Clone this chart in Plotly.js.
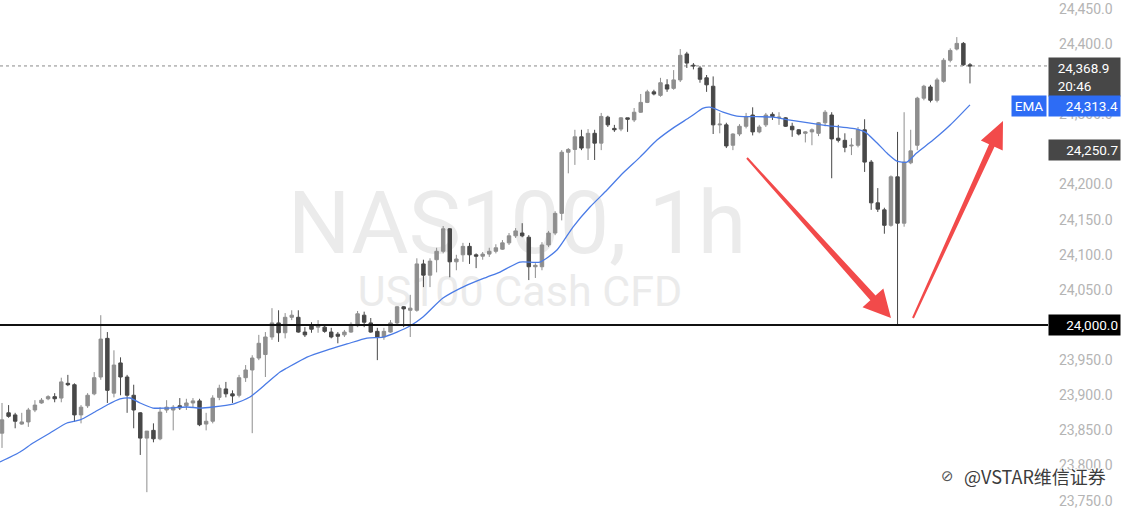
<!DOCTYPE html>
<html><head><meta charset="utf-8">
<script src="https://cdn.plot.ly/plotly-3.0.1.min.js"></script>
<style>html,body{margin:0;padding:0;background:#fff;}#chart{width:1123px;height:511px;}</style>
</head><body><div id="chart"></div>
<script>
// ---- data ----
const openP = [23846,23875,23872,23859,23862,23879,23889,23895,23898,23896,23917,23915,23872,23885,23902,23926,23981,23903,23946,23926,23900,23875,23839,23850,23838,23879,23879,23885,23885,23889,
23892,23859,23863,23897,23909,23902,23900,23925,23936,23953,23958,23983,24003,23989,24011,24011,23990,23999,23997,23997,23990,23987,23986,23990,23999,24014,24003,23991,23983,23990,
24003,24026,24021,24021,24087,24071,24093,24105,24137,24090,24100,24112,24100,24098,24101,24105,24108,24117,24127,24131,24125,24083,24083,24114,24131,24159,24246,24250,24268,24252,
24273,24259,24296,24280,24279,24295,24292,24303,24317,24332,24327,24342,24337,24349,24386,24370,24366,24352,24340,24285,24285,24256,24272,24283,24299,24275,24285,24300,24295,24295,
24283,24278,24273,24275,24273,24288,24299,24266,24263,24255,24256,24278,24232,24174,24164,24142,24211,24145,24231,24256,24323,24339,24320,24347,24377,24393,24401,24370.5];
const highP = [23889,23886,23875,23875,23882,23893,23896,23900,23903,23925,23929,23917,23886,23903,23933,24014,23990,23964,23954,23929,23915,23876,23849,23860,23883,23893,23886,23896,23895,23896,
23895,23875,23900,23915,23919,23907,23929,23943,23957,23986,23990,24024,24021,24017,24021,24021,23997,24004,24007,24000,23996,23990,23993,24004,24020,24019,24010,23996,23996,24007,
24027,24027,24043,24095,24093,24095,24110,24141,24138,24100,24117,24117,24102,24104,24110,24115,24121,24131,24138,24145,24128,24088,24118,24134,24162,24249,24252,24278,24278,24279,
24278,24302,24298,24285,24296,24295,24309,24329,24335,24335,24352,24350,24363,24393,24389,24373,24369,24356,24354,24302,24288,24273,24286,24302,24310,24285,24302,24303,24303,24296,
24288,24279,24276,24280,24289,24306,24303,24285,24273,24266,24282,24293,24235,24195,24167,24213,24275,24303,24278,24325,24342,24342,24352,24380,24394,24410,24403,24373];
const lowP = [23825,23868,23853,23858,23855,23876,23888,23893,23890,23890,23913,23862,23860,23882,23900,23922,23889,23897,23900,23875,23853,23815,23762,23833,23836,23875,23850,23879,23879,23883,
23856,23850,23860,23893,23897,23889,23897,23919,23846,23950,23926,23979,23976,23981,24007,23989,23983,23989,23989,23989,23981,23974,23983,23989,23997,23997,23989,23950,23979,23989,
24000,23997,23983,24019,24054,24054,24075,24102,24068,24078,24090,24087,24081,24093,24097,24102,24107,24114,24124,24125,24064,24067,24078,24111,24128,24149,24216,24228,24249,24235,
24235,24249,24282,24275,24276,24275,24289,24302,24316,24327,24325,24332,24335,24346,24366,24364,24345,24332,24272,24273,24252,24249,24269,24280,24270,24273,24282,24292,24285,24282,
24268,24270,24260,24256,24269,24283,24209,24260,24246,24242,24253,24218,24164,24161,24130,24140,23999,24140,24229,24249,24320,24317,24317,24345,24374,24391,24369,24344];
const closeP = [23865,23870,23863,23862,23879,23886,23893,23898,23895,23919,23915,23872,23883,23900,23925,23980,23907,23943,23926,23900,23879,23839,23849,23838,23876,23883,23883,23882,23889,23892,
23858,23863,23896,23910,23902,23899,23925,23936,23953,23974,23983,24003,23989,24011,24014,23990,23986,23994,24000,23991,23983,23984,23990,24001,24016,24004,23990,23983,23991,24003,
24026,24023,24024,24087,24071,24091,24105,24137,24090,24094,24112,24100,24098,24101,24105,24110,24117,24127,24134,24127,24083,24085,24114,24131,24159,24246,24250,24268,24252,24273,
24259,24297,24285,24278,24295,24293,24303,24317,24332,24329,24345,24336,24349,24384,24373,24369,24350,24342,24285,24286,24255,24272,24283,24297,24275,24282,24299,24297,24296,24283,
24278,24272,24275,24278,24288,24303,24265,24263,24253,24256,24278,24232,24174,24165,24142,24211,24145,24232,24248,24323,24340,24320,24349,24377,24391,24401,24370.5,24368.9];

// EMA line read at bar positions
const emaX = [-0.3,2.73,4.71,7.29,9.87,11.85,13.82,15.95,17.92,19.44,20.96,22.93,25.06,28.09,30.07,32.04,35.08,37.66,40.24,42.22,43.28,46.32,49.35,52.39,55.43,57.86,59.98,61.96,63.93,66.97,
70.61,73.65,75.63,78.66,81.7,84.28,86.71,89.29,91.88,94.31,96.89,99.47,101.9,104.5,106.5,107.5,109.5,111.6,117.1,119.7,124.7,129.8,131.1,132.9,134.4,135.9,137.4,138.9,141.4,144.0,147.0];
const emaY = [23805.0,23819.2,23832.0,23846.3,23860.5,23864.8,23874.7,23886.1,23894.7,23896.1,23889.0,23881.8,23881.8,23883.3,23881.8,23883.3,23887.5,23897.5,23917.4,23933.1,23938.8,23954.4,23964.4,23973.0,23981.5,23982.9,23990.0,23998.6,24011.4,24038.4,
24056.9,24068.3,24075.4,24089.7,24089.7,24106.8,24139.5,24168.0,24192.2,24216.4,24239.1,24263.3,24280.4,24296.1,24308.9,24310.3,24303.2,24297.5,24296.1,24291.8,24284.7,24279.0,24274.7,24259.1,24244.8,24233.5,24232.0,24244.8,24263.3,24284.7,24313.4];

// price-scale ticks (those hidden behind the price tags in the picture are left out)
const tickVals = [23750,23800,23850,23900,23950,24050,24100,24150,24200,24300,24400,24450];
const lastPrice = 24368.9;
const lastTime = '20:46';
const emaLast = 24313.4;
const supportLevel = 24000.0;
const markLevel = 24250.7;
const symbolText = 'NAS100, 1h';
const descText = 'US100 Cash CFD';
const creditText = '@VSTAR维信证券';

// ---- layout helpers ----
const W = 1048, H = 511;
const fmt = v => v.toLocaleString('en-US', {minimumFractionDigits: 1, maximumFractionDigits: 1});
const bars = openP.map((_, i) => i);

function arrowPath(tx, ty, hx, hy, tw, sw, hl, hw) {
  const dx = hx - tx, dy = hy - ty, L = Math.hypot(dx, dy);
  const ux = dx / L, uy = dy / L, nx = -uy, ny = ux;
  const bx = hx - ux * hl, by = hy - uy * hl;
  const pts = [[tx + nx * tw, ty + ny * tw], [bx + nx * sw, by + ny * sw], [bx + nx * hw, by + ny * hw], [hx, hy],
               [bx - nx * hw, by - ny * hw], [bx - nx * sw, by - ny * sw], [tx - nx * tw, ty - ny * tw]];
  return 'M' + pts.map(p => (p[0] / W).toFixed(5) + ',' + (1 - p[1] / H).toFixed(5)).join('L') + 'Z';
}

const traces = [
  {
    type: 'candlestick', x: bars, open: openP, high: highP, low: lowP, close: closeP,
    increasing: {line: {color: '#8e8e8e', width: 1}, fillcolor: '#8e8e8e'},
    decreasing: {line: {color: '#484848', width: 1}, fillcolor: '#484848'},
    whiskerwidth: 0, hoverinfo: 'skip'
  },
  {
    type: 'scatter', mode: 'lines', x: emaX, y: emaY,
    line: {color: '#4a7be6', width: 1.3, shape: 'spline', smoothing: 0.6}, hoverinfo: 'skip'
  }
];

const labelFont = {family: 'Roboto, Liberation Sans, sans-serif', size: 13.5, color: '#ffffff'};

const layout = {
  width: 1123, height: 511,
  margin: {l: 0, r: 75, t: 0, b: 0, pad: 0},
  paper_bgcolor: '#ffffff', plot_bgcolor: '#ffffff',
  showlegend: false, hovermode: false, boxgap: 0.25,
  xaxis: {range: [-0.304, 158.85], visible: false, rangeslider: {visible: false}, fixedrange: true},
  yaxis: {
    side: 'right', range: [23735.2, 24462.8], tickvals: tickVals, ticktext: tickVals.map(fmt),
    tickfont: {family: 'Roboto, Liberation Sans, sans-serif', size: 14, color: '#b4b4b4'},
    showgrid: false, zeroline: false, showline: false, ticks: '', ticklabelstandoff: 10,
    automargin: false, fixedrange: true
  },
  shapes: [
    {type: 'rect', xref: 'paper', yref: 'paper', x0: 217 / W, x1: 817 / W, y0: 1 - 256 / H, y1: 1 - 176 / H,
     line: {width: 0}, fillcolor: 'rgba(0,0,0,0)', layer: 'below',
     label: {text: symbolText, textposition: 'middle center', font: {family: 'Roboto, sans-serif', size: 88, color: '#ebebeb'}}},
    {type: 'rect', xref: 'paper', yref: 'paper', x0: 320 / W, x1: 720 / W, y0: 1 - 308 / H, y1: 1 - 268 / H,
     line: {width: 0}, fillcolor: 'rgba(0,0,0,0)', layer: 'below',
     label: {text: descText, textposition: 'middle center', font: {family: 'Roboto, sans-serif', size: 43, color: '#ebebeb'}}},
    {type: 'line', xref: 'paper', yref: 'y', x0: 0, x1: 1, y0: lastPrice, y1: lastPrice,
     line: {color: '#8a8a8a', width: 1, dash: 'dot'}, layer: 'below'},
    {type: 'line', xref: 'paper', yref: 'y', x0: 0, x1: 1, y0: supportLevel, y1: supportLevel,
     line: {color: '#111111', width: 2}},
    {type: 'path', xref: 'paper', yref: 'paper', path: arrowPath(747, 158, 891, 318, 1, 3.5, 27, 14),
     fillcolor: '#f24a4a', line: {width: 0}},
    {type: 'path', xref: 'paper', yref: 'paper', path: arrowPath(913, 318, 1003, 121, 1, 3, 27, 12),
     fillcolor: '#f24a4a', line: {width: 0}}
  ],
  annotations: [
    {xref: 'paper', x: 1, xanchor: 'left', yref: 'y', y: supportLevel, yanchor: 'middle',
     text: fmt(supportLevel), showarrow: false, bgcolor: '#000000', font: labelFont,
     width: 67, align: 'right', borderpad: 2},
    {xref: 'paper', x: 1, xanchor: 'left', yref: 'y', y: lastPrice, yanchor: 'top', yshift: 9,
     text: '&nbsp;&nbsp;' + fmt(lastPrice) + '<br>&nbsp;&nbsp;' + lastTime, showarrow: false, bgcolor: '#474747', font: labelFont,
     width: 67, align: 'left', borderpad: 2},
    {xref: 'paper', x: 1, xanchor: 'left', yref: 'y', y: emaLast, yanchor: 'middle', yshift: -1,
     text: fmt(emaLast), showarrow: false, bgcolor: '#2d6cf5', font: labelFont,
     width: 67, align: 'right', borderpad: 2},
    {xref: 'paper', x: 1, xanchor: 'right', xshift: -1, yref: 'y', y: emaLast, yanchor: 'middle', yshift: -1,
     text: 'EMA', showarrow: false, bgcolor: '#2d6cf5', font: labelFont, width: 30, align: 'center', borderpad: 2},
    {xref: 'paper', x: 1, xanchor: 'left', yref: 'y', y: markLevel, yanchor: 'middle', yshift: -1,
     text: fmt(markLevel), showarrow: false, bgcolor: '#474747', font: labelFont,
     width: 67, align: 'right', borderpad: 2},
    {xref: 'paper', x: 962 / W, xanchor: 'left', yref: 'paper', y: 1 - 476 / H, yanchor: 'middle',
     text: creditText, showarrow: false,
     font: {family: 'Noto Sans CJK SC, sans-serif', size: 18, color: '#3c3c3c',
            shadow: '1px 1px 0 #fff, -1px -1px 0 #fff, 1px -1px 0 #fff, -1px 1px 0 #fff'}},
    {xref: 'paper', x: 947 / W, xanchor: 'center', yref: 'paper', y: 1 - 476 / H, yanchor: 'middle',
     text: '⊘', showarrow: false,
     font: {family: 'DejaVu Sans, sans-serif', size: 15, color: '#555555'}}
  ]
};

Plotly.newPlot('chart', traces, layout, {displayModeBar: false, staticPlot: true});
</script>
</body></html>
